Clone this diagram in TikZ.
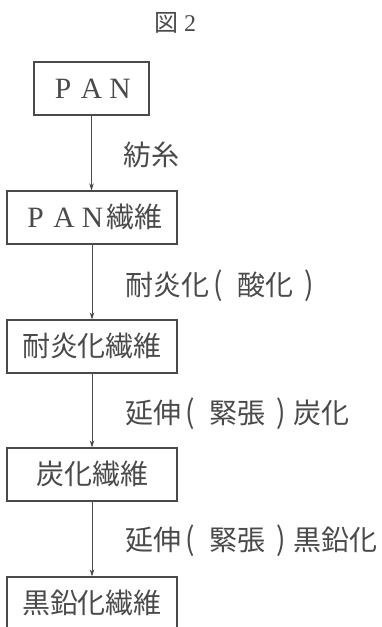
\documentclass[tikz,border=0pt]{standalone}
\usepackage{fontspec}
\setmainfont{Liberation Serif}
\newfontfamily\jpfont{Noto Sans CJK JP}
\usetikzlibrary{arrows.meta}
\definecolor{ink}{HTML}{4A4A4A}
\newcommand{\jp}{\jpfont\fontsize{28}{31}\selectfont}
\newcommand{\jpt}{\jpfont\fontsize{24}{28}\selectfont}
\newcommand{\fwl}[1]{\makebox[28.5pt][c]{\rmfamily\fontsize{29.5}{31}\selectfont #1}}
\newcommand{\lpar}{\makebox[1em][l]{\hspace{0.16em}\raisebox{-0.02em}{\scalebox{1}[1.12]{(}}}}
\newcommand{\rpar}{\makebox[1em][l]{\hspace{0.42em}\raisebox{-0.02em}{\scalebox{1}[1.12]{)}}}}
\begin{document}
\begin{tikzpicture}[x=1pt,y=-1pt,
  box/.style={draw=ink, line width=1.2pt, minimum height=53pt, inner sep=0pt,
    text height=22pt, text depth=2pt, font=\jp, text=ink},
  lbl/.style={anchor=base west, inner sep=0pt, font=\jp, text=ink},
  flow/.style={draw=ink, line width=0.8pt, -{Stealth[length=7pt,width=4.5pt]}}]
\clip (0,0) rectangle (381,627);
\node[font=\jpt, text=ink, anchor=base, inner sep=0pt] (title) at (175,31) {図\hspace{6pt}{\rmfamily 2}};
\node[box, minimum width=115pt] (pan) at (91.5,88.5) {\fwl{P}\fwl{A}\fwl{N}};
\node[box, minimum width=170pt] (panf) at (92,217.5) {\fwl{P}\fwl{A}\fwl{N}繊維};
\node[box, minimum width=170pt] (tai) at (92,346.5) {耐炎化繊維};
\node[box, minimum width=170pt] (tan) at (92,474.5) {炭化繊維};
\node[box, minimum width=170pt] (koku) at (92,603.5) {黒鉛化繊維};
\draw[flow] (pan.south) -- (pan.south |- panf.north);
\draw[flow] (panf.south) -- (tai.north);
\draw[flow] (tai.south) -- (tan.north);
\draw[flow] (tan.south) -- (koku.north);
\node[lbl] (l1) at (123,165) {紡糸};
\node[lbl] (l2) at (125,295) {耐炎化\lpar 酸化\rpar};
\node[lbl] (l3) at (125,423) {延伸\lpar 緊張\rpar 炭化};
\node[lbl] (l4) at (125,550) {延伸\lpar 緊張\rpar 黒鉛化};
\end{tikzpicture}
\end{document}
